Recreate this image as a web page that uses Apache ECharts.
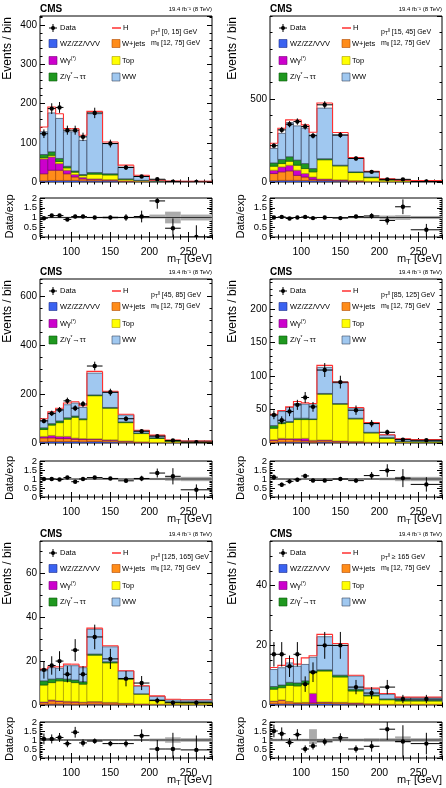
<!DOCTYPE html>
<html>
<head>
<meta charset="utf-8">
<title>mT distributions in pTll bins</title>
<script src="https://cdn.jsdelivr.net/npm/echarts@6.0.0/dist/echarts.min.js"></script>
<style>
  html, body { margin: 0; padding: 0; background: #fff; }
  #chart { width: 446px; height: 788px; }
</style>
</head>
<body>
<div id="chart"></div>
<script>
// bin edges of mT [GeV]
const binEdges = [60, 70, 80, 90, 100, 110, 120, 140, 160, 180, 200, 220, 240, 280];
const xTickLabels = [100, 150, 200, 250];
const ratioLabelsA = [0, 1, 2];
const ratioLabelsB = [0.5, 1.5];
const procNames = ['WZ/ZZ/VVV', 'W+jets', 'Wγ(*)', 'Top', 'Z/γ*→ττ', 'WW'];

// pTll [0, 15] GeV
const p1Vvv = [3, 4, 4, 4, 4, 3, 3, 3, 1.5, 1, 0.5, 0.3, 0.3];
const p1Wjets = [18, 26, 26, 17, 9, 5, 3, 2, 1, 0.5, 0.3, 0.2, 0.2];
const p1Wg = [38, 34, 17, 9, 6, 4, 2, 1, 0.5, 0.3, 0.1, 0.1, 0.1];
const p1Top = [3, 4, 5, 6, 6, 5, 12, 12, 4, 2, 1, 0.5, 0.5];
const p1Dy = [8, 9, 8, 4, 3, 2, 4, 3, 1, 0.5, 0.2, 0.1, 0.1];
const p1Ww = [58, 99, 102, 88, 100, 87, 150, 77, 30, 11, 2, 0.8, 0.5];
const p1H = [12, 15, 12, 8, 8, 13, 6, 4, 5, 2, 0.5, 0.2, 0.2];
const p1Data = [123, 187, 190, 132, 132, 115, 176, 98, 37, 14, 7, 1, 0];
const p1DataErr = [11, 13.7, 13.8, 11.5, 11.5, 10.7, 13.3, 9.9, 6.1, 3.7, 2.6, 1, 0];
const p1Ratio = [0.96, 1.1, 1.1, 0.9, 1.05, 1.05, 1.0, 1.0, 1.0, 1.05, 1.85, 0.45, 0];
const p1RatioErr = [0.08, 0.08, 0.08, 0.08, 0.09, 0.09, 0.08, 0.1, 0.17, 0.3, 0.4, 0.5, 0.6];
const p1BandLo = [0.96, 0.96, 0.96, 0.96, 0.96, 0.96, 0.96, 0.93, 0.96, 0.95, 0.95, 0.7, 0.85];
const p1BandHi = [1.04, 1.04, 1.04, 1.04, 1.04, 1.04, 1.04, 1.07, 1.04, 1.05, 1.15, 1.3, 1.15];

// pTll [15, 45] GeV
const p2Vvv = [8, 10, 10, 10, 9, 8, 8, 6, 4, 2, 1, 1, 0.5];
const p2Wjets = [43, 51, 57, 30, 21, 8, 4, 4, 2, 1, 0.5, 0.3, 0.3];
const p2Wg = [20, 30, 34, 31, 21, 14, 6, 3, 2, 1, 0.5, 0.3, 0.2];
const p2Top = [24, 20, 24, 30, 30, 31, 116, 84, 49, 22, 10, 6, 5];
const p2Dy = [20, 25, 27, 31, 30, 20, 6, 4, 4, 4, 2, 2, 1];
const p2Ww = [87, 157, 206, 206, 213, 202, 305, 182, 81, 31, 3, 1, 1];
const p2H = [31, 31, 16, 36, 20, 17, 31, 15, 6, 4, 2, 0.3, 0.5];
const p2Data = [219, 314, 348, 364, 334, 279, 465, 283, 142, 61, 16, 16, 3];
const p2DataErr = [14.8, 17.7, 18.7, 19.1, 18.3, 16.7, 21.6, 16.8, 11.9, 7.8, 4, 4, 1.7];
const p2Ratio = [1.0, 1.03, 0.95, 1.0, 1.03, 0.97, 1.0, 0.97, 1.05, 1.08, 0.85, 1.55, 0.37];
const p2RatioErr = [0.07, 0.06, 0.05, 0.05, 0.06, 0.06, 0.05, 0.06, 0.09, 0.14, 0.22, 0.38, 0.3];
const p2BandLo = [0.97, 0.97, 0.97, 0.97, 0.97, 0.97, 0.97, 0.97, 0.96, 0.95, 0.9, 0.88, 0.92];
const p2BandHi = [1.03, 1.03, 1.03, 1.03, 1.03, 1.03, 1.03, 1.03, 1.04, 1.05, 1.1, 1.12, 1.08];

// pTll [45, 85] GeV
const p3Vvv = [5, 6, 6, 6, 6, 5, 6, 5, 3, 2, 1, 1, 0.5];
const p3Wjets = [16, 15, 12, 12, 9, 9, 8, 6, 4, 2, 1, 0.5, 0.5];
const p3Wg = [6, 10, 9, 9, 5, 4, 3, 2, 1, 0.5, 0.3, 0.2, 0.1];
const p3Top = [28, 42, 56, 70, 85, 77, 176, 129, 75, 34, 16, 5, 3];
const p3Dy = [7, 6, 7, 6, 5, 4, 3, 3, 3, 2, 3, 3, 3];
const p3Ww = [30, 41, 45, 53, 53, 46, 89, 62, 28, 9.5, 8.7, 1.5, 0.5];
const p3H = [7, 7, 7, 7, 5, 7, 7, 4, 3, 2, 2, 0.5, 0.3];
const p3Data = [90, 121, 135, 172, 142, 159, 314, 207, 99, 48, 28, 10, 3];
const p3DataErr = [9.5, 11, 11.6, 13.1, 11.9, 12.6, 17.7, 14.4, 9.9, 6.9, 5.3, 3.2, 1.7];
const p3Ratio = [1.0, 1.0, 0.97, 1.08, 0.85, 1.0, 1.08, 1.03, 0.9, 1.03, 1.33, 1.15, 0.4];
const p3RatioErr = [0.1, 0.09, 0.08, 0.08, 0.07, 0.08, 0.06, 0.07, 0.09, 0.15, 0.25, 0.45, 0.3];
const p3BandLo = [0.97, 0.97, 0.97, 0.97, 0.97, 0.97, 0.97, 0.97, 0.97, 0.96, 0.94, 0.9, 0.88];
const p3BandHi = [1.03, 1.03, 1.03, 1.03, 1.03, 1.03, 1.03, 1.03, 1.03, 1.04, 1.06, 1.1, 1.12];

// pTll [85, 125] GeV
const p4Vvv = [1, 1.5, 1.5, 1.5, 1.5, 1, 1.5, 1, 1, 0.5, 0.3, 0.2, 0.2];
const p4Wjets = [3, 4, 4, 3, 2, 2, 2, 1.5, 1, 0.5, 0.3, 0.2, 0.2];
const p4Wg = [1, 1.5, 1, 2, 3.5, 1, 1, 0.5, 0.3, 0.2, 0.1, 0.1, 0.1];
const p4Top = [17, 22, 24.5, 28.5, 28, 31, 68.5, 55, 33.7, 13.8, 6.3, 1.5, 1];
const p4Dy = [4, 2, 1, 2, 2, 1, 1, 1, 1, 1, 1, 0.5, 1];
const p4Ww = [15, 16, 21, 22, 21, 21, 39, 31, 15, 14, 4, 3.5, 2.5];
const p4H = [2, 1.5, 1, 3, 2, 2, 3, 1, 1, 0.5, 0.3, 0.2, 0.2];
const p4Data = [42, 34, 47, 57, 68, 54, 109, 91, 49, 29, 16, 5, 4];
const p4DataErr = [6.5, 5.8, 6.9, 7.5, 8.2, 7.3, 10.4, 9.5, 7, 5.4, 4, 2.2, 2];
const p4Ratio = [1.1, 0.68, 0.87, 0.96, 1.17, 0.92, 0.92, 1.0, 0.91, 1.19, 1.47, 1.05, 0.7];
const p4RatioErr = [0.15, 0.12, 0.12, 0.1, 0.12, 0.1, 0.08, 0.08, 0.12, 0.2, 0.35, 0.5, 0.4];
const p4BandLo = [0.96, 0.96, 0.96, 0.96, 0.96, 0.96, 0.96, 0.96, 0.96, 0.95, 0.93, 0.88, 0.88];
const p4BandHi = [1.04, 1.04, 1.04, 1.04, 1.04, 1.04, 1.04, 1.04, 1.04, 1.05, 1.07, 1.12, 1.12];

// pTll [125, 165] GeV
const p5Vvv = [0.3, 0.4, 0.4, 0.4, 0.3, 0.3, 0.4, 0.3, 0.2, 0.1, 0.1, 0.05, 0.05];
const p5Wjets = [0.8, 1.5, 1.2, 1, 1, 0.8, 1, 0.7, 0.5, 0.3, 0.2, 0.1, 0.1];
const p5Wg = [0.3, 0.4, 0.3, 0.3, 0.3, 0.2, 0.2, 0.2, 0.1, 0.1, 0.05, 0.05, 0.05];
const p5Top = [7.7, 7.9, 9.1, 9.1, 8.6, 8.2, 21.1, 18, 11, 4.5, 1.8, 1, 0.8];
const p5Dy = [1.9, 1.6, 1.1, 1, 1.2, 1.1, 0.5, 0.5, 0.3, 0.1, 0.2, 0.3, 0.5];
const p5Ww = [4.6, 5.2, 4.6, 6.1, 6.5, 6.4, 11.3, 6.8, 3.4, 3.5, 1.5, 0.8, 0.8];
const p5H = [0.8, 0.4, 0.7, 0.7, 0.7, 0.4, 0.5, 0.5, 0.1, 0.2, 0.3, 0.3, 0.1];
const p5Data = [16, 18, 20, 14, 25, 14, 31, 21, 12, 10, 2, 1, 1];
const p5DataErr = [4, 4.2, 4.5, 3.7, 5, 3.7, 5.6, 4.6, 3.5, 3.2, 1.4, 1, 1];
const p5Ratio = [1.06, 1.06, 1.14, 0.8, 1.43, 0.84, 0.94, 0.8, 0.8, 1.24, 0.5, 0.5, 0.45];
const p5RatioErr = [0.3, 0.25, 0.25, 0.2, 0.3, 0.2, 0.15, 0.15, 0.2, 0.35, 0.5, 0.9, 0.8];
const p5BandLo = [0.95, 0.95, 0.95, 0.95, 0.95, 0.95, 0.95, 0.95, 0.95, 0.94, 0.92, 0.85, 0.9];
const p5BandHi = [1.05, 1.05, 1.05, 1.05, 1.05, 1.05, 1.05, 1.05, 1.05, 1.06, 1.08, 1.15, 1.1];

// pTll >= 165 GeV
const p6Vvv = [0.4, 0.4, 0.4, 0.4, 0.4, 0.4, 0.5, 0.4, 0.3, 0.2, 0.1, 0.1, 0.1];
const p6Wjets = [0.8, 1.2, 0.7, 0.3, 0.4, 0.3, 0.4, 0.4, 0.3, 0.2, 0.1, 0.1, 0.1];
const p6Wg = [0.1, 0.1, 0.1, 0.1, 0.1, 3.2, 0.1, 0.1, 0.1, 0.05, 0.05, 0.05, 0.05];
const p6Top = [4, 4.1, 5.4, 5.6, 6.3, 6.9, 10.4, 8.5, 4, 2.6, 1.5, 1.1, 1.1];
const p6Dy = [0.9, 0.9, 1, 1, 0.9, 0.6, 0.4, 0.6, 0.6, 0.3, 0.3, 0.4, 0.3];
const p6Ww = [5.7, 5.8, 6.5, 5.6, 5.5, 4.6, 11.1, 10, 4.4, 2, 1.5, 0.8, 0.9];
const p6H = [0.7, 0.8, 1.5, 0.7, 2.2, 0.5, 0.8, 0.6, 0.3, 0.3, 0.3, 0.1, 0.1];
const p6Data = [17, 17, 13, 17, 7, 11, 20, 20, 6, 4, 6, 2, 2];
const p6DataErr = [4.1, 4.1, 3.6, 4.1, 2.6, 3.3, 4.5, 4.5, 2.4, 2, 2.4, 1.4, 1.4];
const p6Ratio = [1.5, 1.35, 0.86, 1.3, 0.5, 0.67, 0.9, 1.12, 0.5, 0.65, 1.6, 0.92, 0.8];
const p6RatioErr = [0.35, 0.35, 0.25, 0.3, 0.2, 0.2, 0.2, 0.25, 0.2, 0.3, 0.6, 0.9, 0.6];
const p6BandLo = [0.93, 0.93, 0.93, 0.93, 0.93, 0.77, 0.93, 0.93, 0.92, 0.9, 0.9, 0.85, 0.9];
const p6BandHi = [1.07, 1.07, 1.07, 1.07, 1.07, 1.6, 1.07, 1.07, 1.08, 1.1, 1.1, 1.2, 1.1];

const panelDefs = [
  { tag: 'p{sub|T}{sup|ll} [0, 15] GeV', vvv: p1Vvv, wjets: p1Wjets, wg: p1Wg, top: p1Top, dy: p1Dy, ww: p1Ww, h: p1H,
    data: p1Data, dataErr: p1DataErr, ratio: p1Ratio, ratioErr: p1RatioErr, bandLo: p1BandLo, bandHi: p1BandHi,
    yMax: 423, yStep: 100, yMinor: 20 },
  { tag: 'p{sub|T}{sup|ll} [15, 45] GeV', vvv: p2Vvv, wjets: p2Wjets, wg: p2Wg, top: p2Top, dy: p2Dy, ww: p2Ww, h: p2H,
    data: p2Data, dataErr: p2DataErr, ratio: p2Ratio, ratioErr: p2RatioErr, bandLo: p2BandLo, bandHi: p2BandHi,
    yMax: 1000, yStep: 500, yMinor: 100 },
  { tag: 'p{sub|T}{sup|ll} [45, 85] GeV', vvv: p3Vvv, wjets: p3Wjets, wg: p3Wg, top: p3Top, dy: p3Dy, ww: p3Ww, h: p3H,
    data: p3Data, dataErr: p3DataErr, ratio: p3Ratio, ratioErr: p3RatioErr, bandLo: p3BandLo, bandHi: p3BandHi,
    yMax: 669, yStep: 200, yMinor: 50 },
  { tag: 'p{sub|T}{sup|ll} [85, 125] GeV', vvv: p4Vvv, wjets: p4Wjets, wg: p4Wg, top: p4Top, dy: p4Dy, ww: p4Ww, h: p4H,
    data: p4Data, dataErr: p4DataErr, ratio: p4Ratio, ratioErr: p4RatioErr, bandLo: p4BandLo, bandHi: p4BandHi,
    yMax: 245, yStep: 50, yMinor: 10 },
  { tag: 'p{sub|T}{sup|ll} [125, 165] GeV', vvv: p5Vvv, wjets: p5Wjets, wg: p5Wg, top: p5Top, dy: p5Dy, ww: p5Ww, h: p5H,
    data: p5Data, dataErr: p5DataErr, ratio: p5Ratio, ratioErr: p5RatioErr, bandLo: p5BandLo, bandHi: p5BandHi,
    yMax: 74.7, yStep: 20, yMinor: 5 },
  { tag: 'p{sub|T}{sup|ll} ≥ 165 GeV', vvv: p6Vvv, wjets: p6Wjets, wg: p6Wg, top: p6Top, dy: p6Dy, ww: p6Ww, h: p6H,
    data: p6Data, dataErr: p6DataErr, ratio: p6Ratio, ratioErr: p6RatioErr, bandLo: p6BandLo, bandHi: p6BandHi,
    yMax: 55, yStep: 20, yMinor: 5 }
];

const FONT = '"Liberation Sans", Arial, Helvetica, sans-serif';
const procFill = ['#3a62f0', '#ff8c1a', '#cc00cc', '#ffff00', '#1f981f', '#a0c8f0'];
const procLine = ['#1c2d8a', '#b04a00', '#770077', '#a89a00', '#0c5a0c', '#3b4660'];
const hColor = '#ff3030';

const cols = [{ left: 40, titleX: 8, ratioTitleX: 10 }, { left: 270, titleX: 233, ratioTitleX: 241 }];
const rows = [
  { top: 16, h: 166, rTop: 198, rH: 39 },
  { top: 279, h: 164, rTop: 461, rH: 36 },
  { top: 541, h: 164, rTop: 722, rH: 36 }
];
const W = 172;

const grids = [], xAxes = [], yAxes = [], series = [], graphics = [];

function addAxes(g, o) {
  const xb = { type: 'value', gridIndex: g, min: 60, max: 280, axisLine: { show: false }, splitLine: { show: false } };
  ['bottom', 'top'].forEach(pos => {
    xAxes.push(Object.assign({}, xb, {
      position: pos,
      axisTick: { inside: true, length: 5, customValues: xTickLabels, lineStyle: { color: '#000' } },
      axisLabel: { show: o.xLabels && pos === 'bottom', customValues: xTickLabels, fontSize: 10.5,
        fontFamily: FONT, color: '#000', margin: 10 }
    }));
    xAxes.push(Object.assign({}, xb, {
      position: pos, interval: 10,
      axisTick: { inside: true, length: 2.5, lineStyle: { color: '#000' } },
      axisLabel: { show: false }
    }));
  });
  const yb = { type: 'value', gridIndex: g, min: 0, max: o.yMax, axisLine: { show: false }, splitLine: { show: false } };
  const lab = { fontSize: o.ySize, fontFamily: FONT, color: '#000', margin: 3, hideOverlap: false };
  ['left', 'right'].forEach(pos => {
    const left = pos === 'left';
    // major ticks; ratio panels split their labels over two axes so none of them get dropped
    yAxes.push(Object.assign({}, yb, {
      position: pos, interval: o.yStep,
      axisTick: { inside: true, length: 5, lineStyle: { color: '#000' } },
      axisLabel: Object.assign({ show: left, showMaxLabel: o.showMax }, lab,
        o.ratio ? { customValues: ratioLabelsA } : {})
    }));
    yAxes.push(Object.assign({}, yb, {
      position: pos, interval: o.yMinor,
      axisTick: { inside: true, length: 2.5, lineStyle: { color: '#000' } },
      axisLabel: Object.assign({ show: left && !!o.ratio }, lab, o.ratio ? { customValues: ratioLabelsB } : {})
    }));
  });
}

const rectRenderer = (fill, stroke, lw) => (params, api) => {
  const a = api.coord([api.value(0), api.value(3)]);
  const b = api.coord([api.value(1), api.value(2)]);
  return { type: 'rect', shape: { x: a[0], y: a[1], width: b[0] - a[0], height: b[1] - a[1] },
    style: { fill: fill, stroke: stroke, lineWidth: lw } };
};

const stepRenderer = (color, width) => (params, api) => {
  const x0 = api.value(0), x1 = api.value(1), prev = api.value(2), y = api.value(3);
  const pts = [[x0, prev], [x0, y], [x1, y]].map(p => api.coord(p));
  return { type: 'polyline', shape: { points: pts }, style: { stroke: color, lineWidth: width, fill: null } };
};

const pointRenderer = (params, api) => {
  const x0 = api.value(0), x1 = api.value(1), y = api.value(2), e = api.value(3);
  const xm = (x0 + x1) / 2;
  const c = api.coord([xm, y]);
  const l = api.coord([x0, y]), r = api.coord([x1, y]);
  const t = api.coord([xm, y + e]), b = api.coord([xm, y - e]);
  const ln = { stroke: '#000', lineWidth: 1 };
  return { type: 'group', children: [
    { type: 'line', shape: { x1: l[0], y1: l[1], x2: r[0], y2: r[1] }, style: ln },
    { type: 'line', shape: { x1: t[0], y1: t[1], x2: b[0], y2: b[1] }, style: ln },
    { type: 'circle', shape: { cx: c[0], cy: c[1], r: 2.2 }, style: { fill: '#000' } }
  ] };
};

function rich(size) {
  return {
    sub: { fontSize: size * 0.7, lineHeight: size * 0.3, verticalAlign: 'bottom', fontFamily: FONT, fill: '#000' },
    sup: { fontSize: size * 0.65, lineHeight: size * 0.3, verticalAlign: 'top', fontFamily: FONT, fill: '#000' }
  };
}

function text(x, y, str, size, extra) {
  extra = extra || {};
  return { type: 'text', x: x, y: y, rotation: extra.rotation || 0, silent: true, z: 100,
    style: Object.assign({ text: str, fontSize: size, fontFamily: FONT, fill: '#000', align: 'left',
      verticalAlign: 'middle', lineHeight: size * 1.2, rich: rich(size) }, extra.style || {}) };
}

function legendBox(cx, cy, fill, stroke) {
  return { type: 'rect', silent: true, z: 100, shape: { x: cx - 4, y: cy - 4, width: 8, height: 8 },
    style: { fill: fill, stroke: stroke, lineWidth: 0.6 } };
}

panelDefs.forEach((p, i) => {
  const col = cols[i % 2], row = rows[Math.floor(i / 2)];
  const L = col.left, T = row.top;

  const gm = grids.length;
  grids.push({ left: L, top: T, width: W, height: row.h, show: true, borderColor: '#000', borderWidth: 1,
    backgroundColor: '#fff', containLabel: false });
  addAxes(gm, { yMax: p.yMax, yStep: p.yStep, yMinor: p.yMinor, xLabels: false, ySize: 10, showMax: false });
  const gr = grids.length;
  grids.push({ left: L, top: row.rTop, width: W, height: row.rH, show: true, borderColor: '#000', borderWidth: 1,
    backgroundColor: '#fff', containLabel: false });
  addAxes(gr, { yMax: 2, yStep: 0.5, yMinor: 0.1, xLabels: true, ySize: 9.5, showMax: true, ratio: true });

  const stack = [p.vvv, p.wjets, p.wg, p.top, p.dy, p.ww];
  let base = p.vvv.map(() => 0);
  stack.forEach((vals, k) => {
    series.push({ type: 'custom', name: procNames[k], xAxisIndex: 4 * gm, yAxisIndex: 4 * gm, clip: true,
      silent: true, encode: { x: [0, 1], y: [2, 3] },
      renderItem: rectRenderer(procFill[k], procLine[k], 0.7),
      data: vals.map((v, b) => [binEdges[b], binEdges[b + 1], base[b], base[b] + v]) });
    base = base.map((b0, b) => b0 + vals[b]);
  });
  // H stacked on top of the backgrounds, drawn as a red step outline
  const totals = base.map((b0, b) => b0 + p.h[b]);
  series.push({ type: 'custom', name: 'H', xAxisIndex: 4 * gm, yAxisIndex: 4 * gm, clip: true, silent: true,
    encode: { x: [0, 1], y: [2, 3] }, renderItem: stepRenderer(hColor, 1.1),
    data: totals.map((v, b) => [binEdges[b], binEdges[b + 1], b === 0 ? base[0] : totals[b - 1], v]) });
  series.push({ type: 'custom', name: 'Data', xAxisIndex: 4 * gm, yAxisIndex: 4 * gm, clip: true, silent: true,
    encode: { x: [0, 1], y: [2] }, renderItem: pointRenderer, z: 5,
    data: p.data.map((v, b) => [binEdges[b], binEdges[b + 1], v, p.dataErr[b]]) });

  // ratio panel
  series.push({ type: 'custom', name: 'unc', xAxisIndex: 4 * gr, yAxisIndex: 4 * gr, clip: true, silent: true,
    encode: { x: [0, 1], y: [2, 3] }, renderItem: rectRenderer('#ababab', null, 0),
    data: p.bandLo.map((lo, b) => [binEdges[b], binEdges[b + 1], lo, p.bandHi[b]]) });
  series.push({ type: 'line', xAxisIndex: 4 * gr, yAxisIndex: 4 * gr, silent: true, symbol: 'none',
    lineStyle: { color: '#222', width: 0.9 }, data: [[60, 1], [280, 1]] });
  series.push({ type: 'custom', name: 'ratio', xAxisIndex: 4 * gr, yAxisIndex: 4 * gr, clip: true, silent: true,
    encode: { x: [0, 1], y: [2] }, renderItem: pointRenderer, z: 5,
    data: p.ratio.map((v, b) => [binEdges[b], binEdges[b + 1], v, p.ratioErr[b]]) });

  // texts around the panel
  graphics.push(text(L, T - 6.5, 'CMS', 10, { style: { fontWeight: 'bold' } }));
  graphics.push(text(L + W, T - 6.5, '19.4 fb⁻¹ (8 TeV)', 6, { style: { align: 'right' } }));
  graphics.push(text(col.titleX, T + 1, 'Events / bin', 12, { rotation: Math.PI / 2, style: { align: 'right' } }));
  graphics.push(text(col.ratioTitleX, row.rTop + row.rH / 2 - 1, 'Data/exp', 11,
    { rotation: Math.PI / 2, style: { align: 'center' } }));
  graphics.push(text(L + W, row.rTop + row.rH + 22, 'm{sub|T} [GeV]', 11, { style: { align: 'right' } }));

  // legend
  const ly = [T + 12, T + 27.5, T + 44.5, T + 61];
  graphics.push({ type: 'line', silent: true, z: 100, shape: { x1: L + 9, y1: ly[0], x2: L + 17, y2: ly[0] }, style: { stroke: '#000', lineWidth: 1 } });
  graphics.push({ type: 'line', silent: true, z: 100, shape: { x1: L + 13, y1: ly[0] - 4, x2: L + 13, y2: ly[0] + 4 }, style: { stroke: '#000', lineWidth: 1 } });
  graphics.push({ type: 'circle', silent: true, z: 100, shape: { cx: L + 13, cy: ly[0], r: 2 }, style: { fill: '#000' } });
  graphics.push(text(L + 20, ly[0], 'Data', 7.5));
  graphics.push(legendBox(L + 13, ly[1], procFill[0], procLine[0]));
  graphics.push(text(L + 20, ly[1], 'WZ/ZZ/VVV', 7.5));
  graphics.push(legendBox(L + 13, ly[2], procFill[2], procLine[2]));
  graphics.push(text(L + 20, ly[2], 'Wγ{sup|(*)}', 7.5));
  graphics.push(legendBox(L + 13, ly[3], procFill[4], procLine[4]));
  graphics.push(text(L + 20, ly[3], 'Z/γ{sup|*}→ττ', 7.5));

  graphics.push({ type: 'line', silent: true, z: 100, shape: { x1: L + 72, y1: ly[0], x2: L + 81, y2: ly[0] }, style: { stroke: hColor, lineWidth: 1.5 } });
  graphics.push(text(L + 83, ly[0], 'H', 7.5));
  graphics.push(legendBox(L + 76, ly[1], procFill[1], procLine[1]));
  graphics.push(text(L + 82, ly[1], 'W+jets', 7.5));
  graphics.push(legendBox(L + 76, ly[2], procFill[3], procLine[3]));
  graphics.push(text(L + 82, ly[2], 'Top', 7.5));
  graphics.push(legendBox(L + 76, ly[3], procFill[5], procLine[5]));
  graphics.push(text(L + 82, ly[3], 'WW', 7.5));

  graphics.push(text(L + 111, T + 16, p.tag, 7));
  graphics.push(text(L + 111, T + 27, 'm{sub|ll} [12, 75] GeV', 7));
});

const chart = echarts.init(document.getElementById('chart'), null, { renderer: 'canvas' });
chart.setOption({
  animation: false,
  backgroundColor: '#fff',
  grid: grids,
  xAxis: xAxes,
  yAxis: yAxes,
  series: series,
  graphic: { elements: graphics }
});
</script>
</body>
</html>
